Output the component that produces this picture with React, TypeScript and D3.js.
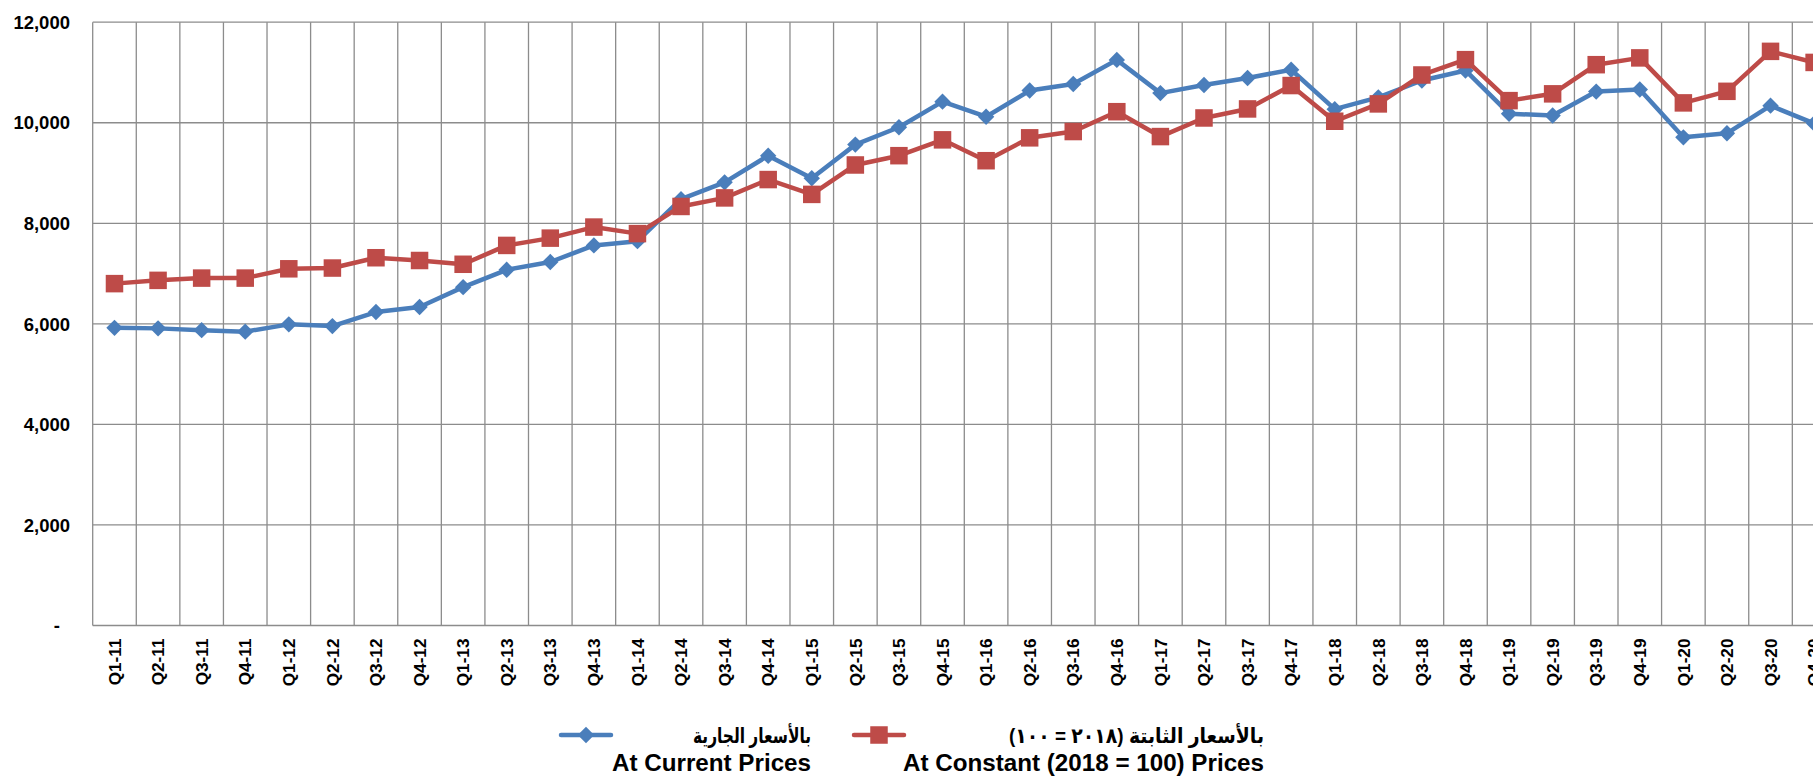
import React from "react";
import * as d3 from "d3";

const categories = [
  "Q1-11","Q2-11","Q3-11","Q4-11","Q1-12","Q2-12","Q3-12","Q4-12",
  "Q1-13","Q2-13","Q3-13","Q4-13","Q1-14","Q2-14","Q3-14","Q4-14",
  "Q1-15","Q2-15","Q3-15","Q4-15","Q1-16","Q2-16","Q3-16","Q4-16",
  "Q1-17","Q2-17","Q3-17","Q4-17","Q1-18","Q2-18","Q3-18","Q4-18",
  "Q1-19","Q2-19","Q3-19","Q4-19","Q1-20","Q2-20","Q3-20","Q4-20",
];

const currentPrices = [
  5920, 5910, 5875, 5845, 5990, 5955, 6235, 6335,
  6730, 7075, 7230, 7560, 7645, 8480, 8815, 9345,
  8895, 9565, 9910, 10420, 10120, 10640, 10770, 11250,
  10590, 10750, 10890, 11055, 10270, 10505, 10840, 11040,
  10180, 10145, 10620, 10660, 9710, 9790, 10340, 9985,
];

const constantPrices = [
  6800, 6865, 6910, 6910, 7095, 7110, 7315, 7260,
  7185, 7560, 7705, 7925, 7795, 8335, 8505, 8870,
  8575, 9160, 9345, 9660, 9245, 9700, 9825, 10220,
  9725, 10095, 10275, 10740, 10030, 10375, 10950, 11255,
  10440, 10575, 11155, 11290, 10395, 10625, 11420, 11200,
];

const yTicks = [0, 2000, 4000, 6000, 8000, 10000, 12000];

const legendCurrentAr = "بالأسعار الجارية";
const legendCurrentEn = "At Current Prices";
const legendConstantAr = "بالأسعار الثابتة (٢٠١٨ = ١٠٠)";
const legendConstantEn = "At Constant (2018 = 100) Prices";

const W = 1813;
const H = 777;
const plotLeft = 92.7;
const colW = 43.58;
const plotTop = 22.2;
const plotBottom = 625.5;

const BLUE = "#4A7EBB";
const RED = "#BE4B48";
const GRID = "#8c8c8c";
const FONT = "'Liberation Sans', Arial, 'DejaVu Sans', sans-serif";

export default function App() {
  const x = d3
    .scaleBand<string>()
    .domain(categories)
    .range([plotLeft, plotLeft + colW * categories.length])
    .padding(0);
  const y = d3.scaleLinear().domain([0, 12000]).range([plotBottom, plotTop]);
  const cx = (c: string) => (x(c) as number) + x.bandwidth() / 2;

  const line = d3
    .line<number>()
    .x((_, i) => cx(categories[i]))
    .y((d) => y(d));

  const fmt = d3.format(",");
  const plotRight = plotLeft + colW * categories.length;

  const diamond = (px: number, py: number, r = 8.2) =>
    `M${px},${py - r}L${px + r},${py}L${px},${py + r}L${px - r},${py}Z`;
  const sq = 17.5;

  return (
    <svg
      width={W}
      height={H}
      style={{ position: "absolute", left: 0, top: 0, background: "#fff" }}
      fontFamily={FONT}
    >
      <rect x={0} y={0} width={W} height={H} fill="#fff" />
      {/* horizontal grid */}
      {yTicks.map((t) => (
        <line
          key={"h" + t}
          x1={plotLeft}
          x2={plotRight}
          y1={y(t)}
          y2={y(t)}
          stroke={GRID}
          strokeWidth={1.3}
        />
      ))}
      {/* vertical grid */}
      {categories.map((c) => (
        <line
          key={"v" + c}
          x1={x(c) as number}
          x2={x(c) as number}
          y1={plotTop}
          y2={plotBottom}
          stroke={GRID}
          strokeWidth={1.3}
        />
      ))}
      <line x1={plotRight} x2={plotRight} y1={plotTop} y2={plotBottom} stroke={GRID} strokeWidth={1.3} />

      {/* y tick labels */}
      {yTicks.map((t) => (
        <text
          key={"yt" + t}
          x={t === 0 ? 60 : 70}
          y={y(t)}
          dy="0.36em"
          textAnchor="end"
          fontWeight="bold"
          fontSize={18.5}
          fill="#000"
        >
          {t === 0 ? "-" : fmt(t)}
        </text>
      ))}

      {/* x tick labels */}
      {categories.map((c) => (
        <text
          key={"xt" + c}
          transform={`translate(${cx(c)},638.5) rotate(-90)`}
          dy="0.36em"
          textAnchor="end"
          fontWeight="bold"
          fontSize={17.2}
          fill="#000"
        >
          {c}
        </text>
      ))}

      {/* current prices series */}
      <path d={line(currentPrices) || ""} fill="none" stroke={BLUE} strokeWidth={4.5} strokeLinejoin="round" />
      {currentPrices.map((v, i) => (
        <path key={"cm" + i} d={diamond(cx(categories[i]), y(v))} fill={BLUE} />
      ))}

      {/* constant prices series */}
      <path d={line(constantPrices) || ""} fill="none" stroke={RED} strokeWidth={4.5} strokeLinejoin="round" />
      {constantPrices.map((v, i) => (
        <rect
          key={"km" + i}
          x={cx(categories[i]) - sq / 2}
          y={y(v) - sq / 2}
          width={sq}
          height={sq}
          fill={RED}
        />
      ))}

      {/* legend */}
      <line x1={561} x2={611} y1={735} y2={735} stroke={BLUE} strokeWidth={4.5} strokeLinecap="round" />
      <path d={diamond(586, 735)} fill={BLUE} />
      <text
        x={811}
        y={735}
        dy="0.36em"
        direction="rtl"
        textAnchor="start"
        fontWeight="bold"
        fontSize={21}
        fill="#000"
        textLength={118}
        lengthAdjust="spacingAndGlyphs"
      >
        {legendCurrentAr}
      </text>
      <text x={811} y={771} textAnchor="end" fontWeight="bold" fontSize={24.2} fill="#000">
        {legendCurrentEn}
      </text>

      <line x1={854} x2={904} y1={735} y2={735} stroke={RED} strokeWidth={4.5} strokeLinecap="round" />
      <rect x={879 - sq / 2} y={735 - sq / 2} width={sq} height={sq} fill={RED} />
      <text
        x={1264}
        y={735}
        dy="0.36em"
        direction="rtl"
        textAnchor="start"
        fontWeight="bold"
        fontSize={21}
        fill="#000"
        textLength={255}
        lengthAdjust="spacingAndGlyphs"
      >
        {legendConstantAr}
      </text>
      <text x={1264} y={771} textAnchor="end" fontWeight="bold" fontSize={24.2} fill="#000">
        {legendConstantEn}
      </text>
    </svg>
  );
}
